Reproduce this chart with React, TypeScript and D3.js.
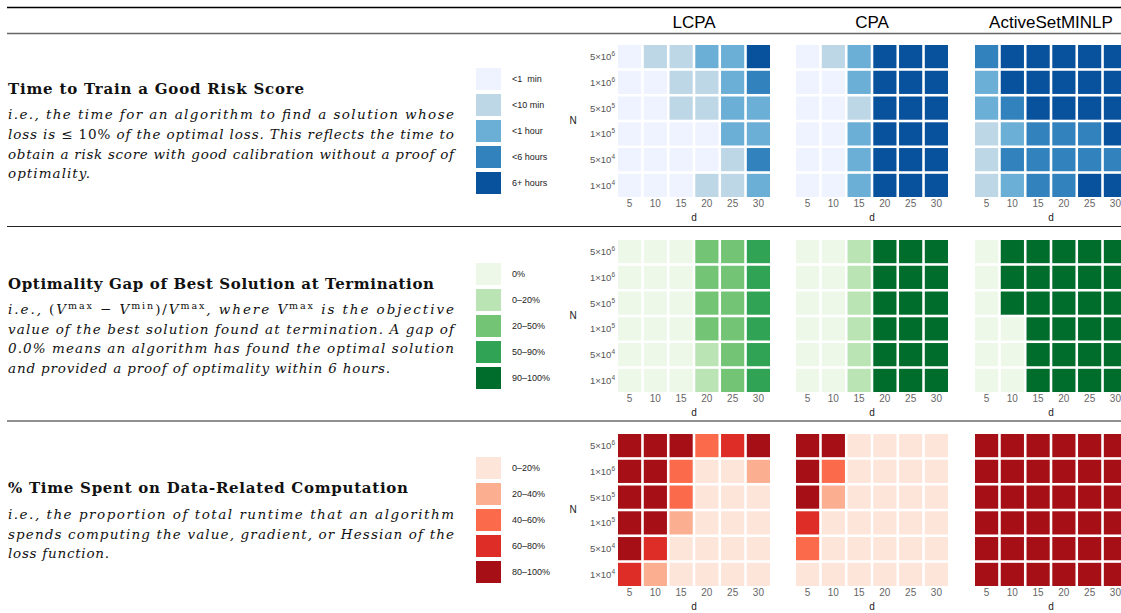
import React from 'react';
import * as d3 from 'd3';

// ---------- data ----------
const methods = ['LCPA', 'CPA', 'ActiveSetMINLP'];
const dValues = [5, 10, 15, 20, 25, 30];
const nMantissas = [5, 1, 5, 1, 5, 1]; // rows top -> bottom
const nExponents = [6, 6, 5, 5, 4, 4];

const timeLabels = ['<1  min', '<10 min', '<1 hour', '<6 hours', '6+ hours'];
const timeColors = ['#eff3ff', '#bdd7e7', '#6baed6', '#3182bd', '#08519c'];
const gapLabels = ['0%', '0–20%', '20–50%', '50–90%', '90–100%'];
const gapColors = ['#edf8e9', '#bae4b3', '#74c476', '#31a354', '#006d2c'];
const dataLabels = ['0–20%', '20–40%', '40–60%', '60–80%', '80–100%'];
const dataColors = ['#fee5d9', '#fcae91', '#fb6a4a', '#de2d26', '#a50f15'];

// level index per cell, rows N = 5e6,1e6,5e5,1e5,5e4,1e4 ; cols d = 5..30
const timeLCPA = [
  [0, 1, 1, 2, 2, 4],
  [0, 0, 1, 1, 2, 3],
  [0, 0, 1, 1, 2, 2],
  [0, 0, 0, 0, 2, 2],
  [0, 0, 0, 0, 1, 3],
  [0, 0, 0, 1, 1, 2],
];
const timeCPA = [
  [0, 1, 2, 4, 4, 4],
  [0, 0, 2, 4, 4, 4],
  [0, 0, 1, 4, 4, 4],
  [0, 0, 2, 4, 4, 4],
  [0, 0, 2, 4, 4, 4],
  [0, 0, 2, 4, 4, 4],
];
const timeAS = [
  [3, 4, 4, 4, 4, 4],
  [2, 4, 4, 4, 4, 4],
  [2, 3, 4, 4, 4, 4],
  [1, 2, 3, 3, 3, 4],
  [1, 3, 3, 3, 3, 3],
  [1, 2, 3, 3, 4, 4],
];
const gapLCPA = [
  [0, 0, 0, 2, 2, 3],
  [0, 0, 0, 2, 2, 3],
  [0, 0, 0, 2, 2, 3],
  [0, 0, 0, 2, 2, 3],
  [0, 0, 0, 1, 2, 3],
  [0, 0, 0, 1, 2, 3],
];
const gapCPA = [
  [0, 0, 1, 4, 4, 4],
  [0, 0, 1, 4, 4, 4],
  [0, 0, 1, 4, 4, 4],
  [0, 0, 1, 4, 4, 4],
  [0, 0, 1, 4, 4, 4],
  [0, 0, 1, 4, 4, 4],
];
const gapAS = [
  [0, 4, 4, 4, 4, 4],
  [0, 4, 4, 4, 4, 4],
  [0, 4, 4, 4, 4, 4],
  [0, 0, 4, 4, 4, 4],
  [0, 0, 4, 4, 4, 4],
  [0, 0, 4, 4, 4, 4],
];
const dataLCPA = [
  [4, 4, 4, 2, 3, 4],
  [4, 4, 2, 0, 0, 1],
  [4, 4, 2, 0, 0, 0],
  [4, 4, 1, 0, 0, 0],
  [4, 3, 0, 0, 0, 0],
  [3, 1, 0, 0, 0, 0],
];
const dataCPA = [
  [4, 4, 0, 0, 0, 0],
  [4, 2, 0, 0, 0, 0],
  [4, 1, 0, 0, 0, 0],
  [3, 0, 0, 0, 0, 0],
  [2, 0, 0, 0, 0, 0],
  [0, 0, 0, 0, 0, 0],
];
const dataAS = [
  [4, 4, 4, 4, 4, 4],
  [4, 4, 4, 4, 4, 4],
  [4, 4, 4, 4, 4, 4],
  [4, 4, 4, 4, 4, 4],
  [4, 4, 4, 4, 4, 4],
  [4, 4, 4, 4, 4, 4],
];

const sections = [
  { labels: timeLabels, colors: timeColors, grids: [timeLCPA, timeCPA, timeAS] },
  { labels: gapLabels, colors: gapColors, grids: [gapLCPA, gapCPA, gapAS] },
  { labels: dataLabels, colors: dataColors, grids: [dataLCPA, dataCPA, dataAS] },
];

// ---------- layout ----------
const W = 1121;
const H = 613;
const rowTops = [45, 240, 434];
const panelX = [618, 796, 975];
const panelW = 152;
const panelH = 152;
const SANS = 'Liberation Sans, Arial, sans-serif';
const SERIF = 'DejaVu Serif, serif';

const Heatmap = ({ x0, y0, grid, colors, showY }) => {
  const x = d3.scaleBand<number>().domain(dValues).range([x0, x0 + panelW]).paddingInner(0.1).paddingOuter(0);
  const rowIdx = d3.range(nMantissas.length);
  const y = d3.scaleBand<number>().domain(rowIdx).range([y0, y0 + panelH]).paddingInner(0.1).paddingOuter(0);
  const color = d3.scaleOrdinal<number, string>().domain(d3.range(colors.length)).range(colors);
  const bottom = y0 + panelH;
  return (
    <g>
      {rowIdx.map((r) =>
        dValues.map((d, c) => (
          <rect key={`${r}-${c}`} x={x(d)} y={y(r)} width={x.bandwidth()} height={y.bandwidth()} fill={color(grid[r][c])} />
        ))
      )}
      {dValues.map((d) => (
        <text key={d} x={x(d)! + x.bandwidth() / 2} y={bottom + 10} textAnchor="middle" fontFamily={SANS} fontSize={10} fill="#666">
          {d}
        </text>
      ))}
      <text x={x0 + panelW / 2} y={bottom + 24} textAnchor="middle" fontFamily={SANS} fontSize={10} fill="#222">d</text>
      {showY &&
        rowIdx.map((r) => (
          <text key={r} x={x0 - 3} y={y(r)! + y.bandwidth() / 2 + 3.5} textAnchor="end" fontFamily={SANS} fontSize={9.5} fill="#555">
            {nMantissas[r]}×10<tspan fontSize={6.5} dy={-4}>{nExponents[r]}</tspan>
          </text>
        ))}
      {showY && (
        <text x={573} y={y0 + panelH / 2 + 3} textAnchor="middle" fontFamily={SANS} fontSize={10} fill="#222">N</text>
      )}
    </g>
  );
};

const Legend = ({ y0, labels, colors }) => (
  <g>
    {labels.map((l, i) => (
      <g key={i}>
        <rect x={476} y={y0 + i * 26} width={25} height={22} fill={colors[i]} />
        <text x={512} y={y0 + i * 26 + 14} fontFamily={SANS} fontSize={9} fill="#222" style={{ whiteSpace: 'pre' }}>
          {l}
        </text>
      </g>
    ))}
  </g>
);

const Line = ({ y, w, children }) => (
  <text x={8} y={y} fontFamily={SERIF} fontStyle="italic" fontSize={13.5} fill="#111" textLength={w} lengthAdjust="spacing">
    {children}
  </text>
);

const Title = ({ y, w, children }) => (
  <text x={8} y={y} fontFamily={SERIF} fontWeight="bold" fontSize={15} fill="#111" textLength={w} lengthAdjust="spacing">
    {children}
  </text>
);

export default function App() {
  return (
    <svg width={W} height={H} style={{ position: 'absolute', left: 0, top: 0, background: '#fff' }}>
      <rect width={W} height={H} fill="#fff" />
      <line x1={7} x2={W} y1={7.5} y2={7.5} stroke="#000" strokeWidth={1.6} />
      <line x1={7} x2={W} y1={33.5} y2={33.5} stroke="#666" strokeWidth={1.6} />
      <line x1={7} x2={W} y1={226.5} y2={226.5} stroke="#222" strokeWidth={1} />
      <line x1={7} x2={W} y1={421} y2={421} stroke="#222" strokeWidth={1} />

      {methods.map((m, i) => (
        <text key={m} x={panelX[i] + panelW / 2} y={28} textAnchor="middle" fontFamily={SANS} fontSize={17} fill="#000">
          {m}
        </text>
      ))}

      {sections.map((s, si) => (
        <g key={si}>
          <Legend y0={rowTops[si] + 23} labels={s.labels} colors={s.colors} />
          {s.grids.map((g, gi) => (
            <Heatmap key={gi} x0={panelX[gi]} y0={rowTops[si]} grid={g} colors={s.colors} showY={gi === 0} />
          ))}
        </g>
      ))}

      {/* Section 1 text */}
      <Title y={94} w={296}>Time to Train a Good Risk Score</Title>
      <Line y={119} w={446}>i.e., the time for an algorithm to find a solution whose</Line>
      <Line y={139} w={446}>
        loss is <tspan fontStyle="normal">≤ 10%</tspan> of the optimal loss. This reflects the time to
      </Line>
      <Line y={158.5} w={446}>obtain a risk score with good calibration without a proof of</Line>
      <Line y={178} w={82}>optimality.</Line>

      {/* Section 2 text */}
      <Title y={289} w={426}>Optimality Gap of Best Solution at Termination</Title>
      <Line y={314} w={446}>
        <tspan>i.e., </tspan>
        <tspan fontStyle="normal">(</tspan>
        <tspan>V</tspan>
        <tspan fontStyle="normal" fontSize={9.5} dy={-5}>max</tspan>
        <tspan fontStyle="normal" dy={5}> − </tspan>
        <tspan>V</tspan>
        <tspan fontStyle="normal" fontSize={9.5} dy={-5}>min</tspan>
        <tspan fontStyle="normal" dy={5}>)/</tspan>
        <tspan>V</tspan>
        <tspan fontStyle="normal" fontSize={9.5} dy={-5}>max</tspan>
        <tspan dy={5}>, where V</tspan>
        <tspan fontStyle="normal" fontSize={9.5} dy={-5}>max</tspan>
        <tspan dy={5}> is the objective</tspan>
      </Line>
      <Line y={334} w={446}>value of the best solution found at termination. A gap of</Line>
      <Line y={353} w={446}>0.0% means an algorithm has found the optimal solution</Line>
      <Line y={373} w={382}>and provided a proof of optimality within 6 hours.</Line>

      {/* Section 3 text */}
      <Title y={493} w={400}>% Time Spent on Data-Related Computation</Title>
      <Line y={519} w={446}>i.e., the proportion of total runtime that an algorithm</Line>
      <Line y={538.5} w={446}>spends computing the value, gradient, or Hessian of the</Line>
      <Line y={558} w={101}>loss function.</Line>
    </svg>
  );
}
